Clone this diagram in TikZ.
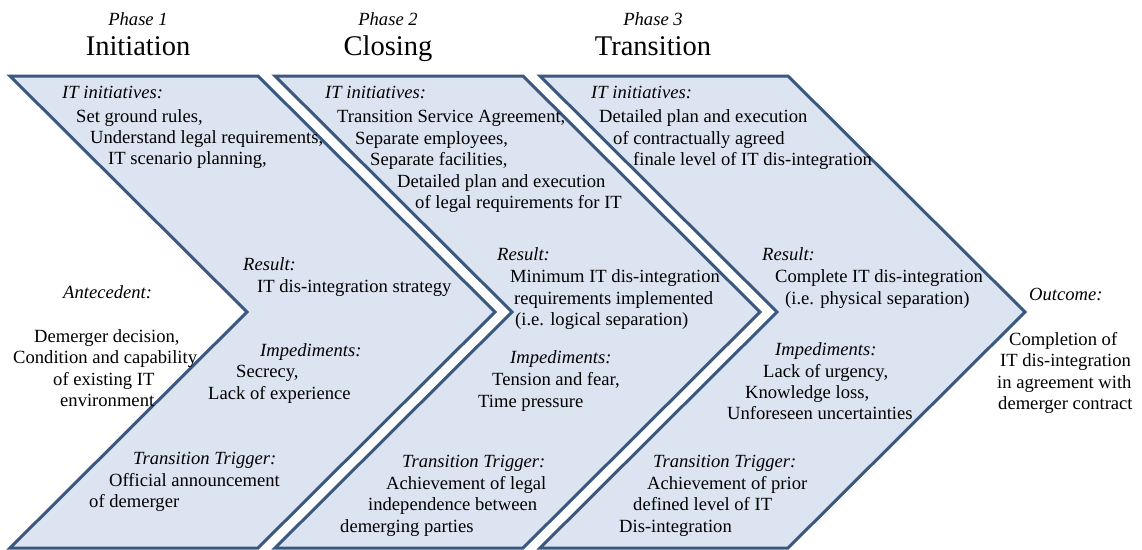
\documentclass[tikz,border=0pt]{standalone}
\usepackage{fontspec}
\setmainfont{Liberation Serif}
\definecolor{chevfill}{RGB}{219,228,240}
\definecolor{chevline}{RGB}{58,88,128}
\begin{document}
\begin{tikzpicture}[x=1pt,y=-1pt,
  chev/.style={fill=chevfill,draw=chevline,line width=3pt,line join=miter},
  txt/.style={anchor=base west,inner sep=0pt,font=\fontsize{18.6}{22}\selectfont},
  lbl/.style={txt,font=\fontsize{18.6}{22}\selectfont\itshape},
  phase/.style={anchor=base,inner sep=0pt,font=\fontsize{18.6}{22}\selectfont\itshape},
  title/.style={anchor=base,inner sep=0pt,font=\fontsize{28.5}{32}\selectfont}]
\useasboundingbox (0,0) rectangle (1142,549);

% three chevrons, each 248 wide at top with a 237 deep point
\foreach \L in {10,275,540}{
  \draw[chev] (\L,76) -- ++(248,0) -- ++(237,236) -- ++(-237,236)
    -- ++(-248,0) -- ++(237,-236) -- cycle;
}

% phase headings
\node[phase] (ph1) at (138,25) {Phase 1};
\node[title] (t1) at (138,55) {Initiation};
\node[phase] (ph2) at (388,25) {Phase 2};
\node[title] (t2) at (388,55) {Closing};
\node[phase] (ph3) at (653,25) {Phase 3};
\node[title] (t3) at (653,55) {Transition};

% antecedent
\node[lbl] (an0) at (63,298) {Antecedent:};
\node[txt] (an1) at (34,342) {Demerger decision,};
\node[txt] (an2) at (13,363) {Condition and capability};
\node[txt] (an3) at (53,385) {of existing IT};
\node[txt] (an4) at (60,406) {environment};

% phase 1
\node[lbl] (a0) at (62,98) {IT initiatives:};
\node[txt] (a1) at (76,122) {Set ground rules,};
\node[txt] (a2) at (90,143) {Understand legal requirements,};
\node[txt] (a3) at (108,164) {IT scenario planning,};
\node[lbl] (a4) at (243,270) {Result:};
\node[txt] (a5) at (257,292) {IT dis-integration strategy};
\node[lbl] (a6) at (260,356) {Impediments:};
\node[txt] (a7) at (236,377) {Secrecy,};
\node[txt] (a8) at (208,399) {Lack of experience};
\node[lbl] (a9) at (133,464) {Transition Trigger:};
\node[txt] (a10) at (109,486) {Official announcement};
\node[txt] (a11) at (89,507) {of demerger};

% phase 2
\node[lbl] (b0) at (325,98) {IT initiatives:};
\node[txt] (b1) at (337,122) {Transition Service Agreement,};
\node[txt] (b2) at (355,144) {Separate employees,};
\node[txt] (b3) at (370,165) {Separate facilities,};
\node[txt] (b4) at (397,187) {Detailed plan and execution};
\node[txt] (b5) at (415,208) {of legal requirements for IT};
\node[lbl] (b6) at (497,260) {Result:};
\node[txt] (b7) at (510,282) {Minimum IT dis-integration};
\node[txt] (b8) at (514,304) {requirements implemented};
\node[txt] (b9) at (515,325) {(i.e. logical separation)};
\node[lbl] (b10) at (510,363) {Impediments:};
\node[txt] (b11) at (492,385) {Tension and fear,};
\node[txt] (b12) at (478,407) {Time pressure};
\node[lbl] (b13) at (402,467) {Transition Trigger:};
\node[txt] (b14) at (386,489) {Achievement of legal};
\node[txt] (b15) at (368,510) {independence between};
\node[txt] (b16) at (340,532) {demerging parties};

% phase 3
\node[lbl] (c0) at (591,98) {IT initiatives:};
\node[txt] (c1) at (599,122) {Detailed plan and execution};
\node[txt] (c2) at (613,144) {of contractually agreed};
\node[txt] (c3) at (633,165) {finale level of IT dis-integration};
\node[lbl] (c4) at (762,260) {Result:};
\node[txt] (c5) at (775,282) {Complete IT dis-integration};
\node[txt] (c6) at (785,304) {(i.e. physical separation)};
\node[lbl] (c7) at (775,355) {Impediments:};
\node[txt] (c8) at (763,377) {Lack of urgency,};
\node[txt] (c9) at (745,398) {Knowledge loss,};
\node[txt] (c10) at (727,419) {Unforeseen uncertainties};
\node[lbl] (c11) at (653,467) {Transition Trigger:};
\node[txt] (c12) at (647,489) {Achievement of prior};
\node[txt] (c13) at (633,510) {defined level of IT};
\node[txt] (c14) at (619,532) {Dis-integration};

% outcome
\node[lbl] (o0) at (1029,300) {Outcome:};
\node[txt] (o1) at (1009,345) {Completion of};
\node[txt] (o2) at (1000,366) {IT dis-integration};
\node[txt] (o3) at (997,388) {in agreement with};
\node[txt] (o4) at (998,409) {demerger contract};
\end{tikzpicture}
\end{document}
